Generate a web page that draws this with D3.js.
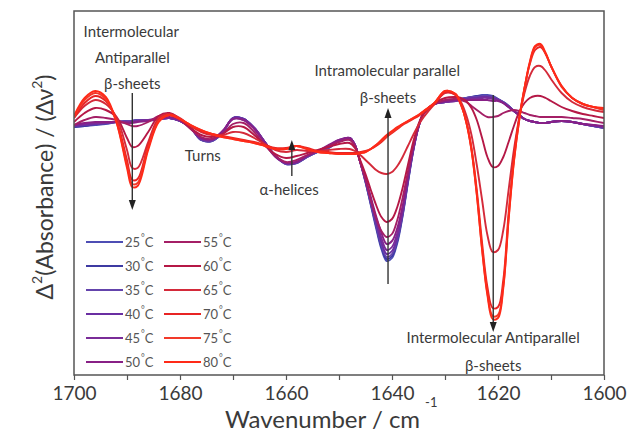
<!DOCTYPE html>
<html>
<head>
<meta charset="utf-8">
<script src="https://cdn.jsdelivr.net/npm/d3@7"></script>
<style>
	body { margin: 0; background: #fff; }
	text { font-family: Lato, 'Open Sans', sans-serif; fill: #3a3a3a; }
</style>
</head>
<body>
<svg id="chart" width="629" height="433"></svg>
<script>
'use strict';

// wavenumber grid (cm-1), shared by every spectrum
var wavenumbers = [1700,1698,1696,1694,1692,1690,1689,1688,1686,1684,
	1682,1680,1678,1676,1674,1672,1670,1668,1666,1664,
	1662,1660,1658,1656,1654,1652,1650,1648,1647,1646,
	1645,1644,1643,1642,1641,1640,1639,1638,1637,1636,
	1635,1634,1632,1630,1628,1627,1626,1625,1624,1623,
	1622,1621,1620,1619,1618,1617,1616,1615,1614,1613,
	1612,1611,1610,1608,1606,1604,1602,1600];

var temperatures = [25, 30, 35, 40, 45, 50, 55, 60, 65, 70, 75, 80];

var colors = ['#4d4db4', '#3e3aa2', '#6444ac', '#6a2ea2', '#7a2c98', '#882086',
	'#a41f66', '#b51846', '#d42a3a', '#e82424', '#f23a2a', '#ff2a18'];

// second derivative, arbitrary units
var d25 = [-7,-6,-5,-4,-2,-1,-1,0,0,1, 2,-1,-8,-20,-21,-13,2,1,-8,-22,
	-36,-44,-43,-37,-32,-28,-21,-18,-25,-42, -62,-85,-108,-129,-141,-138,-123,-96,-63,-31,
	-7,7,16,18,20,21,22,23,24,25, 25,24,21,18,14,9,5,1,-1,-2, -3,-3,-2,-1,-2,-4,-6,-8];
var d30 = [-7,-6,-4,-3,-2,-1,-1,0,0,1, 2,-1,-8,-20,-21,-13,2,1,-8,-22,
	-36,-44,-43,-37,-32,-28,-21,-18,-25,-42, -62,-84,-106,-127,-139,-136,-121,-95,-62,-31,
	-7,7,16,18,20,21,22,23,24,24, 24,23,21,18,14,9,5,1,-1,-2, -3,-3,-2,-1,-2,-4,-6,-8];
var d35 = [-6,-5,-4,-3,-2,-1,-1,0,0,1, 2,-1,-8,-20,-21,-13,2,1,-8,-22,
	-36,-44,-43,-37,-32,-28,-21,-18,-25,-42, -61,-83,-105,-125,-137,-134,-119,-94,-61,-30,
	-7,7,16,18,20,21,22,23,23,24, 24,23,21,18,14,9,5,1,-1,-2, -3,-3,-2,-1,-2,-4,-6,-8];
var d40 = [-6,-5,-4,-3,-2,-2,-2,-1,0,1, 2,-1,-8,-19,-20,-12,2,1,-8,-22,
	-36,-43,-42,-36,-31,-27,-21,-18,-25,-42, -60,-81,-102,-122,-134,-131,-117,-92,-60,-30,
	-7,7,16,18,19,20,21,22,22,23, 23,22,20,17,13,9,5,1,-1,-2, -3,-3,-2,-1,-2,-4,-6,-7];
var d45 = [-5,-4,-3,-3,-2,-2,-2,-1,0,1, 2,-1,-8,-19,-20,-12,1,0,-8,-22,
	-36,-43,-42,-36,-31,-26,-20,-18,-25,-42, -59,-79,-99,-118,-130,-127,-113,-90,-58,-29,
	-7,7,16,18,19,20,20,21,21,22, 22,21,20,17,13,9,5,1,-1,-2, -3,-3,-2,-1,-2,-4,-5,-7];
var d50 = [-5,-3,-2,-2,-2,-3,-3,-2,-1,1, 3,0,-8,-18,-19,-11,1,0,-9,-23,
	-37,-43,-42,-36,-31,-25,-20,-18,-25,-42, -58,-77,-96,-113,-124,-121,-108,-86,-56,-28,
	-6,7,16,19,20,20,20,20,20,20, 20,19,19,17,13,9,5,1,-1,-2, -3,-3,-2,-1,-2,-4,-5,-6];
var d55 = [-5,0,3,2,0,-4,-6,-6,-2,4, 5,0,-9,-17,-19,-14,-4,-3,-12,-25,
	-36,-42,-40,-35,-31,-26,-22,-20,-26,-42, -60,-80,-98,-111,-117,-114,-100,-78,-52,-26,
	-6,6,16,20,21,20,18,14,10,6, 3,3,4,7,9,10,9,7,5,4, 3,3,3,3,2,1,-1,-3];
var d60 = [-2,7,12,10,3,-18,-27,-26,-12,4, 7,1,-8,-15,-17,-14,-7,-7,-15,-25,
	-34,-38,-36,-33,-30,-27,-24,-23,-28,-40, -54,-70,-85,-97,-102,-99,-87,-68,-45,-22,
	-4,7,17,22,23,22,19,12,0,-18, -37,-47,-46,-37,-22,-6,8,17,22,24, 24,22,19,13,9,6,4,2];
var d65 = [2,14,20,16,3,-30,-48,-48,-22,2, 6,2,-6,-12,-15,-15,-12,-13,-18,-24,
	-30,-32,-30,-31,-31,-30,-29,-29,-31,-35, -40,-45,-50,-53,-54,-52,-46,-37,-26,-15,
	-5,3,16,27,25,18,5,-15,-45,-80, -115,-132,-130,-110,-70,-30,2,27,44,53, 54,49,41,27,18,13,10,8];
var d70 = [2,17,24,19,0,-40,-60,-59,-25,0, 5,1,-6,-11,-14,-16,-18,-20,-22,-25,
	-28,-28,-26,-28,-31,-32,-33,-33,-33,-32, -31,-29,-26,-22,-17,-13,-9,-5,-2,1,
	4,8,16,28,25,15,-1,-28,-70,-123, -167,-188,-187,-160,-93,-38,2,32,56,70, 73,66,54,34,22,16,13,10];
var d75 = [3,20,27,21,-2,-45,-64,-63,-28,-1, 5,1,-5,-10,-14,-17,-19,-21,-23,-26,
	-29,-29,-26,-29,-32,-33,-34,-34,-34,-33, -32,-29,-25,-21,-16,-12,-8,-4,-1,2,
	5,9,17,29,26,16,-2,-30,-74,-129, -173,-196,-195,-166,-98,-41,0,31,57,73, 75,66,54,33,22,16,13,11];
var d80 = [4,22,29,23,-2,-48,-67,-66,-30,-2, 5,1,-5,-10,-14,-17,-19,-21,-23,-26,
	-29,-29,-26,-29,-32,-33,-34,-34,-34,-33, -32,-29,-25,-20,-15,-11,-7,-4,-1,2,
	5,9,17,29,26,16,-2,-30,-75,-130, -175,-199,-198,-168,-100,-42,0,32,58,74, 76,67,54,34,22,16,13,12];

var spectra = [d25, d30, d35, d40, d45, d50, d55, d60, d65, d70, d75, d80];

var xTicks = [1700, 1680, 1660, 1640, 1620, 1600];

// band annotations (position in wavenumber / value units)
var notes = [
	{ text: 'Intermolecular', wn: 1689.2, v: 83 },
	{ text: 'Antiparallel', wn: 1689, v: 57 },
	{ text: 'β-sheets', wn: 1689, v: 31 },
	{ text: 'Turns', wn: 1675.7, v: -41 },
	{ text: 'α-helices', wn: 1659.4, v: -75 },
	{ text: 'Intramolecular parallel', wn: 1640.9, v: 44 },
	{ text: 'β-sheets', wn: 1640.75, v: 17 },
	{ text: 'Intermolecular Antiparallel', wn: 1620.9, v: -223 },
	{ text: 'β-sheets', wn: 1620.9, v: -251 }
];
var arrows = [
	{ wn: 1689, from: 27, to: -90 },
	{ wn: 1658.9, from: -56, to: -20 },
	{ wn: 1640.75, from: -164, to: 12 },
	{ wn: 1620.9, from: 25, to: -212 }
];

var svg = d3.select('#chart');
var margin = {top: 11, right: 25, bottom: 58, left: 74};
var width = 629 - margin.left - margin.right;
var height = 433 - margin.top - margin.bottom;

var xscale = d3.scaleLinear().domain([1700, 1600]).range([margin.left, margin.left + width]);
var yscale = d3.scaleLinear().domain([109, -255]).range([margin.top, margin.top + height]);

var defs = svg.append('defs');
defs.append('clipPath').attr('id', 'clip')
	.append('rect')
	.attr('x', margin.left).attr('y', margin.top)
	.attr('width', width).attr('height', height);

var line = d3.line()
	.curve(d3.curveCatmullRom)
	.x(function(d, i) { return xscale(wavenumbers[i]); })
	.y(function(d) { return yscale(d); });

svg.append('g')
	.attr('clip-path', 'url(#clip)')
	.selectAll('path')
	.data(spectra)
	.enter().append('path')
	.attr('d', function(d) { return line(d); })
	.attr('fill', 'none')
	.attr('stroke-width', 1.9)
	.attr('stroke', function(d, i) { return colors[i]; });

// arrows
var ann = svg.append('g');
arrows.forEach(function(a) {
	var x = xscale(a.wn);
	var y0 = yscale(a.from);
	var y1 = yscale(a.to);
	var dir = y1 > y0 ? 1 : -1;
	ann.append('line')
		.attr('x1', x).attr('x2', x)
		.attr('y1', y0).attr('y2', y1 - dir * 8)
		.attr('stroke', '#333').attr('stroke-width', 1.4);
	ann.append('path')
		.attr('d', 'M' + (x - 3.5) + ',' + (y1 - dir * 10) + 'L' + (x + 3.5) + ',' + (y1 - dir * 10) + 'L' + x + ',' + y1 + 'Z')
		.attr('fill', '#222');
});

ann.selectAll('text.note')
	.data(notes)
	.enter().append('text')
	.attr('class', 'note')
	.attr('x', function(d) { return xscale(d.wn); })
	.attr('y', function(d) { return yscale(d.v); })
	.attr('text-anchor', 'middle')
	.style('font-size', '15px')
	.text(function(d) { return d.text; });

// frame
svg.append('rect')
	.attr('x', margin.left).attr('y', margin.top)
	.attr('width', width).attr('height', height)
	.attr('fill', 'none').attr('stroke', '#555').attr('stroke-width', 1.5);

// x axis
var xaxis = svg.append('g')
	.attr('transform', 'translate(0,' + (margin.top + height) + ')')
	.call(d3.axisBottom(xscale).tickValues(d3.range(1700, 1599, -10)).tickSize(5)
		.tickFormat(function(d) { return xTicks.indexOf(d) >= 0 ? d : ''; }));
xaxis.select('.domain').remove();
xaxis.selectAll('line').attr('stroke', '#555').attr('stroke-width', 1.2);
xaxis.selectAll('text')
	.style('font-size', '19px')
	.style('font-family', 'Lato, sans-serif')
	.attr('fill', '#333')
	.attr('dy', '0.9em');

var xtitle = svg.append('text')
	.attr('x', 225).attr('y', 428)
	.style('font-size', '24px')
	.text('Wavenumber / cm');
var xlen = xtitle.node().getComputedTextLength();
svg.append('text')
	.attr('x', 225 + xlen + 5).attr('y', 407)
	.style('font-size', '13px')
	.text('-1');

var ytitle = svg.append('text')
	.attr('transform', 'translate(53,187) rotate(-90)')
	.attr('text-anchor', 'middle')
	.style('font-size', '23px');
ytitle.append('tspan').text('Δ');
ytitle.append('tspan').attr('dy', -11).style('font-size', '14px').text('2');
ytitle.append('tspan').attr('dy', 11).text('(Absorbance) / (Δν');
ytitle.append('tspan').attr('dy', -11).style('font-size', '14px').text('2');
ytitle.append('tspan').attr('dy', 11).text(')');

// legend
var legend = svg.append('g').attr('class', 'legend');
temperatures.forEach(function(t, i) {
	var col = Math.floor(i / 6);
	var row = i % 6;
	var lx = 86 + col * 78;
	var ly = 242 + row * 24;
	legend.append('line')
		.attr('x1', lx).attr('x2', lx + 37)
		.attr('y1', ly).attr('y2', ly)
		.attr('stroke', colors[i]).attr('stroke-width', 2);
	var lt = legend.append('text')
		.attr('x', lx + 39).attr('y', ly + 5)
		.style('font-size', '13px')
		.style('fill', '#555');
	lt.append('tspan').text(t);
	lt.append('tspan').attr('dy', -6).attr('dx', 1).style('font-size', '9px').text('°');
	lt.append('tspan').attr('dy', 6).text('C');
});
</script>
</body>
</html>
